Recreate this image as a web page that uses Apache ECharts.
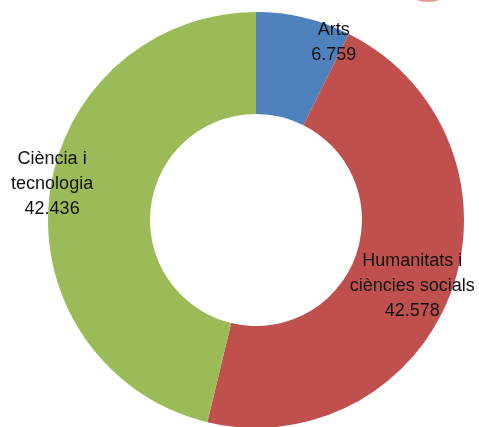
<!DOCTYPE html>
<html>
<head>
<meta charset="utf-8">
<script src="https://cdn.jsdelivr.net/npm/echarts@6/dist/echarts.min.js"></script>
<style>
  html, body { margin: 0; padding: 0; background: #fff; }
  #chart { width: 479px; height: 427px; }
</style>
</head>
<body>
<div id="chart"></div>
<script>
// dades
var categories = ['Arts', 'Humanitats i\nciències socials', 'Ciència i\ntecnologia']
var values = [6759, 42578, 42436]
var colors = ['#4f81bd', '#c0504d', '#9bbb59']
// desplaçament de les etiquetes respecte al punt interior
var labelOffsets = [[41, -22], [6, 11], [-45, -17]]

function fmt(v) {
  return String(v).replace(/\B(?=(\d{3})+(?!\d))/g, '.')
}

var chart = echarts.init(document.getElementById('chart'))
chart.setOption({
  animation: false,
  graphic: [{
    type: 'ellipse',
    shape: { cx: 428, cy: -5, rx: 16, ry: 7 },
    style: { fill: 'rgba(214,80,80,0.6)' },
    silent: true
  }],
  series: [{
    type: 'pie',
    center: [256, 220],
    radius: [106, 208],
    startAngle: 90,
    clockwise: true,
    silent: true,
    labelLine: { show: false },
    label: {
      show: true,
      position: 'inside',
      fontFamily: 'Liberation Sans, Arial, sans-serif',
      fontSize: 18,
      lineHeight: 25,
      color: '#111',
      align: 'center',
      formatter: function (p) {
        return p.name + '\n' + fmt(p.value)
      }
    },
    data: categories.map(function (name, i) {
      return {
        name: name,
        value: values[i],
        itemStyle: { color: colors[i] },
        label: { offset: labelOffsets[i] }
      }
    })
  }]
})
</script>
</body>
</html>
